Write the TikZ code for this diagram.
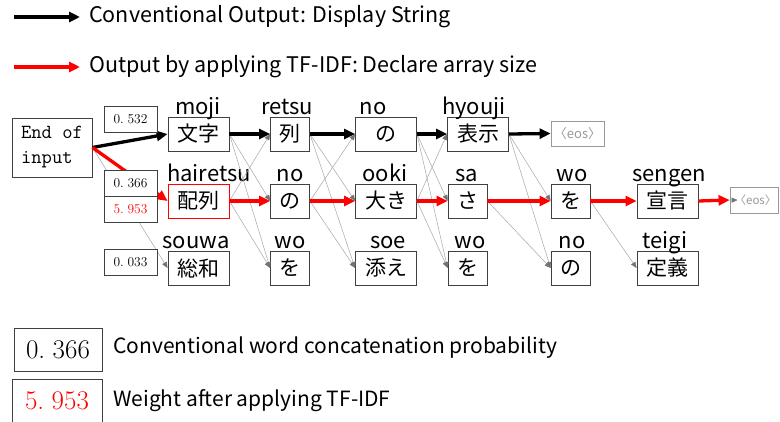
\documentclass[tikz,border=0pt]{standalone}
\usepackage{fontspec}
\setsansfont{Noto Sans CJK JP}
\usetikzlibrary{arrows.meta}
\newcommand{\dotgap}{\hspace{0.28em}}
\begin{document}
\begin{tikzpicture}[x=1bp,y=-1bp,
  font=\sffamily\fontsize{21bp}{25bp}\selectfont,
  word/.style={draw=black!75,line width=0.8bp,fill=white,inner sep=0pt,minimum height=34bp},
  wide/.style={word,minimum width=61bp},
  narrow/.style={word,minimum width=39bp},
  reading/.style={anchor=base,inner sep=0pt,font=\sffamily\fontsize{22bp}{26bp}\selectfont},
  prob/.style={draw=black!75,line width=0.8bp,fill=white,inner sep=0pt,minimum width=53bp,minimum height=26bp,
    font=\rmfamily\fontsize{13.5bp}{16bp}\selectfont},
  eosbox/.style={draw=black!40,line width=0.8bp,fill=white,inner sep=0pt,minimum height=25bp,text=black!40,
    font=\sffamily\fontsize{13bp}{15bp}\selectfont},
  conv/.style={line width=3.3bp,-{Triangle[length=11bp,width=10bp]}},
  tfidf/.style={conv,red},
  alt/.style={black!35,line width=0.5bp,-{Triangle[length=6bp,width=5bp,color=black!55,fill=black!55]}},
]
\useasboundingbox (0,0) rectangle (780,421);

% legend for the two output paths
\coordinate (la1) at (14,17);  \coordinate (lb1) at (80,17);
\coordinate (la2) at (14,67);  \coordinate (lb2) at (80,67);
\draw[conv] (la1) -- (lb1);
\draw[tfidf] (la2) -- (lb2);
\node[anchor=west,inner sep=0pt,font=\sffamily\fontsize{21.5bp}{25bp}\selectfont] (lt1) at (89,17) {Conventional Output: Display String};
\node[anchor=west,inner sep=0pt,font=\sffamily\fontsize{21.5bp}{25bp}\selectfont] (lt2) at (89,67) {Output by applying TF-IDF: Declare array size};

% start node
\node[draw=black!75,line width=0.8bp,inner sep=0pt,minimum width=80bp,minimum height=59bp,align=left,
  font=\ttfamily\fontsize{20bp}{25bp}\selectfont] (start) at (52,147.5) {End of\\input};

% word lattice
\node[wide] (moji) at (198.5,134) {文字};
\node[wide,draw=red] (hairetsu) at (198.5,201) {配列};
\node[wide] (souwa) at (198.5,268) {総和};

\node[narrow] (retsu) at (290,134) {列};
\node[narrow] (no2) at (290,201) {の};
\node[narrow] (wo2) at (290,268) {を};

\node[wide] (no3) at (386,134) {の};
\node[wide] (ooki) at (386,201) {大き};
\node[wide] (soe) at (386,268) {添え};

\node[wide] (hyouji) at (478,134) {表示};
\node[narrow] (sa) at (467.5,201) {さ};
\node[narrow] (wo4) at (467.5,268) {を};

\node[eosbox,minimum width=53bp] (eos1) at (577.5,133.5) {〈eos〉};
\node[narrow] (wo5) at (570.5,201) {を};
\node[narrow] (no5) at (570.5,268) {の};

\node[wide] (sengen) at (667.5,201) {宣言};
\node[wide] (teigi) at (667.5,268) {定義};

\node[eosbox,minimum width=48bp,minimum height=26bp,font=\sffamily\fontsize{11.5bp}{14bp}\selectfont] (eos2) at (754,200) {\hspace{3bp}〈eos〉};

% readings above the words
\node[reading] (rmoji) at (198,114) {moji};
\node[reading] (rhairetsu) at (209,181) {hairetsu};
\node[reading] (rsouwa) at (196,248) {souwa};
\node[reading] (rretsu) at (287,114) {retsu};
\node[reading] (rno2) at (290,181) {no};
\node[reading] (rwo2) at (290,248) {wo};
\node[reading] (rno3) at (373,114) {no};
\node[reading] (rooki) at (385,181) {ooki};
\node[reading] (rsoe) at (388,248) {soe};
\node[reading] (rhyouji) at (474,114) {hyouji};
\node[reading] (rsa) at (467,181) {sa};
\node[reading] (rwo4) at (470,248) {wo};
\node[reading] (rwo5) at (572,181) {wo};
\node[reading] (rno5) at (572,248) {no};
\node[reading] (rsengen) at (669,181) {sengen};
\node[reading] (rteigi) at (665,248) {teigi};

% alternative transitions
\draw[alt] (moji.east) -- (no2.west);
\draw[alt] (moji.east) -- (wo2.west);
\draw[alt] (hairetsu.east) -- (retsu.west);
\draw[alt] (hairetsu.east) -- (wo2.west);
\draw[alt] (retsu.east) -- (ooki.west);
\draw[alt] (retsu.east) -- (soe.west);
\draw[alt] (no2.east) -- (no3.west);
\draw[alt] (no2.east) -- (soe.west);
\draw[alt] (no3.east) -- (sa.west);
\draw[alt] (no3.east) -- (wo4.west);
\draw[alt] (ooki.east) -- (hyouji.west);
\draw[alt] (ooki.east) -- (wo4.west);
\draw[alt] (hyouji.east) -- (wo5.west);
\draw[alt] (hyouji.east) -- (no5.west);
\draw[alt] (sa.east) -- (no5.west);
\draw[alt] (wo5.east) -- (teigi.west);
\draw[alt] (start.east) -- (souwa.west);

% conventional path
\draw[conv] (start.east) -- (moji.west);
\draw[conv] (moji) -- (retsu);
\draw[conv] (retsu) -- (no3);
\draw[conv] (no3) -- (hyouji);
\draw[conv] (hyouji.east) -- (eos1.west);

% TF-IDF path
\draw[tfidf] (start.east) -- (hairetsu.west);
\draw[tfidf] (hairetsu) -- (no2);
\draw[tfidf] (no2) -- (ooki);
\draw[tfidf] (ooki) -- (sa);
\draw[tfidf] (sa) -- (wo5);
\draw[tfidf] (wo5) -- (sengen);
\coordinate (eos2in) at ([xshift=8bp]eos2.west);
\draw[alt] (sengen.east) -- (eos2in);
\draw[tfidf] (sengen.east) -- (eos2.west);

% probability boxes drawn over the connectors
\node[prob] (p532) at (130.5,119) {0.\dotgap532};
\node[prob] (p366) at (130.5,183) {0.\dotgap366};
\node[prob,text=red] (p5953) at (130.5,209) {5.\dotgap953};
\node[prob] (p033) at (130.5,262) {0.\dotgap033};

% legend for the boxes
\node[prob,minimum width=88bp,minimum height=43bp,font=\rmfamily\fontsize{27bp}{30bp}\selectfont] (k1) at (58,349.5) {0.\dotgap366};
\node[prob,minimum width=90bp,minimum height=44bp,text=red,font=\rmfamily\fontsize{27bp}{30bp}\selectfont] (k2) at (57,401) {5.\dotgap953};
\node[anchor=west,inner sep=0pt] (kt1) at (113,348) {Conventional word concatenation probability};
\node[anchor=west,inner sep=0pt] (kt2) at (113,401) {Weight after applying TF-IDF};
\end{tikzpicture}
\end{document}
